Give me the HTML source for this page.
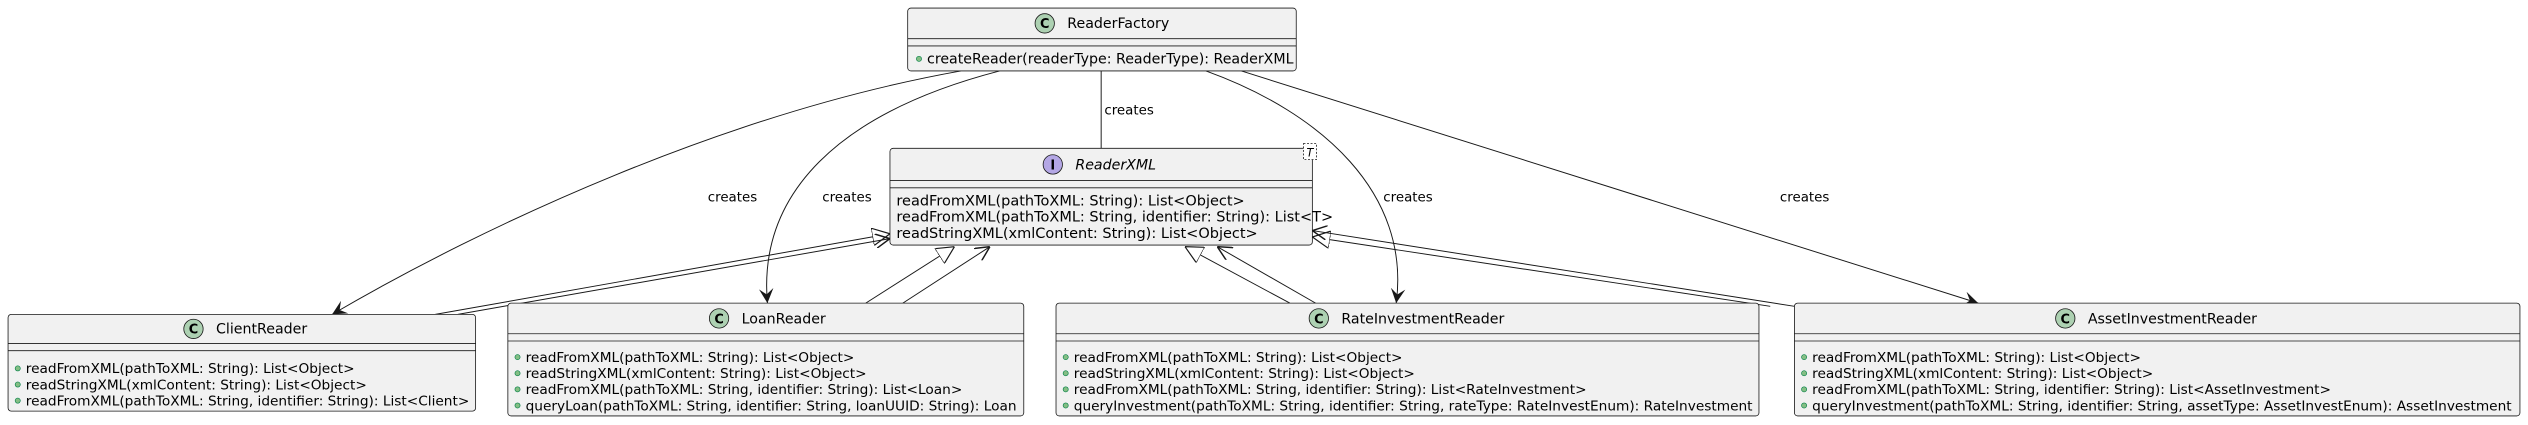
<!DOCTYPE html>
<html><head><meta charset="utf-8"><style>
html,body{margin:0;padding:0;background:#fff;width:2528px;height:425px;overflow:hidden}
svg{display:block}
text{font-family:"DejaVu Sans","Liberation Sans",sans-serif;fill:#000}
.m{font-size:8.5px}
.x{font-size:9px}
.f{font-size:8.8px}
.l{font-size:8.3px}
.t{font-size:8.8px}
.box{fill:#f1f1f1;stroke:#181818;stroke-width:0.5}
.ln{stroke:#181818;stroke-width:0.5}
.e{fill:none;stroke:#181818;stroke-width:0.6}
.dot{fill:#84be84;stroke:#038048;stroke-width:0.4}
</style></head><body>
<svg width="2528" height="425" viewBox="0 0 1568 263.6" xmlns="http://www.w3.org/2000/svg">
<defs>
<marker id="ar" viewBox="0 0 10 10" refX="10" refY="5" markerWidth="9" markerHeight="9" orient="auto" markerUnits="userSpaceOnUse"><path d="M0,0 L10,5 L0,10 L4,5 Z" fill="#181818"/></marker>
<marker id="op" viewBox="0 0 10 10" refX="10" refY="5" markerWidth="9" markerHeight="9" orient="auto" markerUnits="userSpaceOnUse"><path d="M0,0 L10,5 L0,10" fill="none" stroke="#181818" stroke-width="1"/></marker>
<marker id="tr" viewBox="0 0 12 12" refX="12" refY="6" markerWidth="11" markerHeight="11" orient="auto" markerUnits="userSpaceOnUse"><path d="M0,0 L12,6 L0,12 Z" fill="#fff" stroke="#181818" stroke-width="0.8"/></marker>
</defs>

<line class="e" x1="683" y1="44" x2="683" y2="92"/>
<text class="l" x="685" y="71">creates</text>
<path class="e" d="M596,44 C450,70 300,140 206,195" marker-end="url(#ar)"/>
<text class="l" x="439" y="125">creates</text>
<path class="e" d="M620,44 C520,70 470,120 476,188" marker-end="url(#ar)"/>
<text class="l" x="510" y="125">creates</text>
<path class="e" d="M748,44 C820,70 875,120 866,188" marker-end="url(#ar)"/>
<text class="l" x="858" y="125">creates</text>
<path class="e" d="M770,44 L1227,188" marker-end="url(#ar)"/>
<text class="l" x="1104" y="125">creates</text>

<path class="e" d="M270,195 L552,145" marker-end="url(#tr)"/>
<path class="e" d="M284,195 L552,148" marker-end="url(#op)"/>
<path class="e" d="M537,188 L592,153" marker-end="url(#tr)"/>
<path class="e" d="M560,188 L614,153" marker-end="url(#op)"/>
<path class="e" d="M800,188 L735,153" marker-end="url(#tr)"/>
<path class="e" d="M816,188 L755,153" marker-end="url(#op)"/>
<path class="e" d="M1098,190 L814,147" marker-end="url(#tr)"/>
<path class="e" d="M1113,190 L814,143" marker-end="url(#op)"/>

<rect class="box" x="563" y="5" width="241" height="39" rx="2"/>
<line class="ln" x1="563" y1="24" x2="804" y2="24"/>
<line class="ln" x1="563" y1="28.5" x2="804" y2="28.5"/>
<circle cx="648" cy="14.5" r="6" fill="#add1b2" stroke="#181818" stroke-width="0.5"/>
<text x="648" y="17.5" text-anchor="middle" style="font-size:8px;font-weight:bold">C</text>
<text class="t" x="662" y="17.5">ReaderFactory</text>
<circle class="dot" cx="570" cy="36.5" r="1.6"/>
<text class="f" x="575" y="39.5">createReader(readerType: ReaderType): ReaderXML</text>

<rect class="box" x="552" y="92" width="262" height="60" rx="2"/>
<line class="ln" x1="552" y1="112" x2="814" y2="112"/>
<line class="ln" x1="552" y1="116.5" x2="814" y2="116.5"/>
<rect x="808.5" y="89" width="8" height="10" fill="#fff" stroke="#181818" stroke-width="0.5" stroke-dasharray="1.2,1"/>
<text x="812.5" y="97" text-anchor="middle" style="font-size:7px;font-style:italic">T</text>
<circle cx="653" cy="102" r="6" fill="#b4a7e5" stroke="#181818" stroke-width="0.5"/>
<text x="653" y="105" text-anchor="middle" style="font-size:8px;font-weight:bold">I</text>
<text class="t" x="667" y="105" style="font-style:italic">ReaderXML</text>
<text class="x" x="556" y="127.5">readFromXML(pathToXML: String): List&lt;Object&gt;</text>
<text class="x" x="556" y="137.5">readFromXML(pathToXML: String, identifier: String): List&lt;T&gt;</text>
<text class="x" x="556" y="147.5">readStringXML(xmlContent: String): List&lt;Object&gt;</text>

<rect class="box" x="5" y="195" width="290" height="60" rx="2"/>
<line class="ln" x1="5" y1="213" x2="295" y2="213"/>
<line class="ln" x1="5" y1="217.5" x2="295" y2="217.5"/>
<circle cx="120" cy="204" r="6" fill="#add1b2" stroke="#181818" stroke-width="0.5"/>
<text x="120" y="207" text-anchor="middle" style="font-size:8px;font-weight:bold">C</text>
<text class="t" x="134" y="207">ClientReader</text>
<circle class="dot" cx="11" cy="228.5" r="1.6"/><text class="m" x="16" y="231.5">readFromXML(pathToXML: String): List&lt;Object&gt;</text>
<circle class="dot" cx="11" cy="238.5" r="1.6"/><text class="m" x="16" y="241.5">readStringXML(xmlContent: String): List&lt;Object&gt;</text>
<circle class="dot" cx="11" cy="248.5" r="1.6"/><text class="m" x="16" y="251.5">readFromXML(pathToXML: String, identifier: String): List&lt;Client&gt;</text>

<rect class="box" x="315" y="188" width="320" height="70" rx="2"/>
<line class="ln" x1="315" y1="207" x2="635" y2="207"/>
<line class="ln" x1="315" y1="211.5" x2="635" y2="211.5"/>
<circle cx="446" cy="197.5" r="6" fill="#add1b2" stroke="#181818" stroke-width="0.5"/>
<text x="446" y="200.5" text-anchor="middle" style="font-size:8px;font-weight:bold">C</text>
<text class="t" x="460" y="200.5">LoanReader</text>
<circle class="dot" cx="321" cy="221.5" r="1.6"/><text class="m" x="326" y="224.5">readFromXML(pathToXML: String): List&lt;Object&gt;</text>
<circle class="dot" cx="321" cy="231.5" r="1.6"/><text class="m" x="326" y="234.5">readStringXML(xmlContent: String): List&lt;Object&gt;</text>
<circle class="dot" cx="321" cy="241.5" r="1.6"/><text class="m" x="326" y="244.5">readFromXML(pathToXML: String, identifier: String): List&lt;Loan&gt;</text>
<circle class="dot" cx="321" cy="251.5" r="1.6"/><text class="m" x="326" y="254.5">queryLoan(pathToXML: String, identifier: String, loanUUID: String): Loan</text>

<rect class="box" x="655" y="188" width="436" height="70" rx="2"/>
<line class="ln" x1="655" y1="207" x2="1091" y2="207"/>
<line class="ln" x1="655" y1="211.5" x2="1091" y2="211.5"/>
<circle cx="818" cy="197.5" r="6" fill="#add1b2" stroke="#181818" stroke-width="0.5"/>
<text x="818" y="200.5" text-anchor="middle" style="font-size:8px;font-weight:bold">C</text>
<text class="t" x="832" y="200.5">RateInvestmentReader</text>
<circle class="dot" cx="661" cy="221.5" r="1.6"/><text class="m" x="666" y="224.5">readFromXML(pathToXML: String): List&lt;Object&gt;</text>
<circle class="dot" cx="661" cy="231.5" r="1.6"/><text class="m" x="666" y="234.5">readStringXML(xmlContent: String): List&lt;Object&gt;</text>
<circle class="dot" cx="661" cy="241.5" r="1.6"/><text class="m" x="666" y="244.5">readFromXML(pathToXML: String, identifier: String): List&lt;RateInvestment&gt;</text>
<circle class="dot" cx="661" cy="251.5" r="1.6"/><text class="m" x="666" y="254.5">queryInvestment(pathToXML: String, identifier: String, rateType: RateInvestEnum): RateInvestment</text>

<rect class="box" x="1113" y="188" width="450" height="70" rx="2"/>
<line class="ln" x1="1113" y1="207" x2="1563" y2="207"/>
<line class="ln" x1="1113" y1="211.5" x2="1563" y2="211.5"/>
<circle cx="1281" cy="197.5" r="6" fill="#add1b2" stroke="#181818" stroke-width="0.5"/>
<text x="1281" y="200.5" text-anchor="middle" style="font-size:8px;font-weight:bold">C</text>
<text class="t" x="1295" y="200.5">AssetInvestmentReader</text>
<circle class="dot" cx="1119" cy="221.5" r="1.6"/><text class="m" x="1124" y="224.5">readFromXML(pathToXML: String): List&lt;Object&gt;</text>
<circle class="dot" cx="1119" cy="231.5" r="1.6"/><text class="m" x="1124" y="234.5">readStringXML(xmlContent: String): List&lt;Object&gt;</text>
<circle class="dot" cx="1119" cy="241.5" r="1.6"/><text class="m" x="1124" y="244.5">readFromXML(pathToXML: String, identifier: String): List&lt;AssetInvestment&gt;</text>
<circle class="dot" cx="1119" cy="251.5" r="1.6"/><text class="m" x="1124" y="254.5">queryInvestment(pathToXML: String, identifier: String, assetType: AssetInvestEnum): AssetInvestment</text>
</svg>
</body></html>
